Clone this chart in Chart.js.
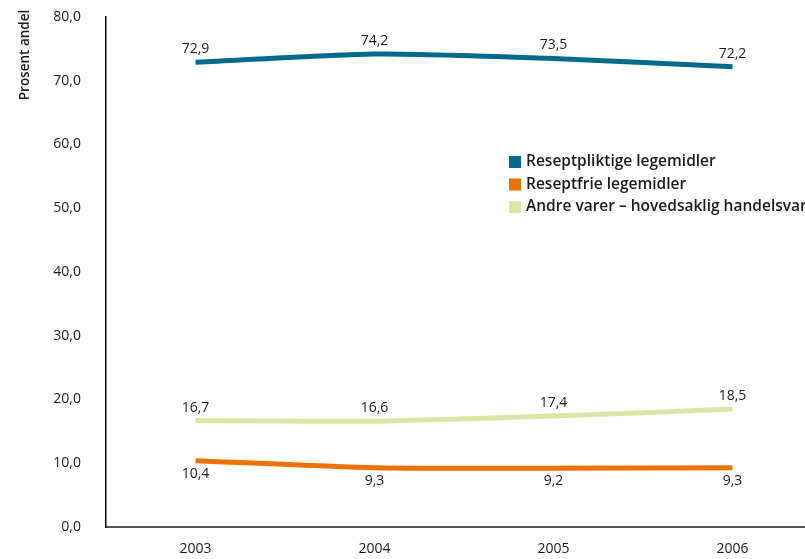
<!DOCTYPE html>
<html lang="no">
<head>
<meta charset="UTF-8">
<title>Prosent andel</title>
<script src="https://cdn.jsdelivr.net/npm/chart.js"></script>
<style>
  body { margin: 0; background: #fff; }
  #wrap { width: 805px; height: 559px; }
</style>
</head>
<body>
<div id="wrap"><canvas id="andelChart" width="805" height="559"></canvas></div>
<script>
// Omsetningsandeler per år
const years = [2003, 2004, 2005, 2006];
const reseptpliktige = [72.9, 74.2, 73.5, 72.2];
const reseptfrie = [10.4, 9.3, 9.2, 9.3];
const andreVarer = [16.7, 16.6, 17.4, 18.5];
const seriesNames = ['Reseptpliktige legemidler', 'Reseptfrie legemidler', 'Andre varer – hovedsaklig handelsvarer'];
const yTicks = [0, 10, 20, 30, 40, 50, 60, 70, 80];

const FONT = '"Open Sans", "DejaVu Sans", sans-serif';
const komma = v => v.toFixed(1).replace('.', ',');
const toPoints = arr => arr.map((v, i) => ({ x: years[i], y: v }));

// verdietiketter over/under linjene
const valueLabels = {
  id: 'valueLabels',
  afterDatasetsDraw(chart) {
    const ctx = chart.ctx;
    ctx.save();
    ctx.font = '14px ' + FONT;
    ctx.fillStyle = '#1a1a1a';
    ctx.textAlign = 'center';
    ctx.textBaseline = 'middle';
    chart.data.datasets.forEach((ds, di) => {
      const meta = chart.getDatasetMeta(di);
      meta.data.forEach((pt, i) => {
        const dy = ds.labelBelow ? 13 : -13;
        ctx.fillText(komma(ds.data[i].y), pt.x, pt.y + dy);
      });
    });
    ctx.restore();
  }
};

// egen forklaring inne i plottet + y-aksetittel
const extras = {
  id: 'extras',
  afterDraw(chart) {
    const ctx = chart.ctx;
    ctx.save();
    ctx.font = '600 15.5px ' + FONT;
    ctx.textAlign = 'left';
    ctx.textBaseline = 'middle';
    chart.data.datasets.forEach((ds, i) => {
      const y = 162 + i * 22.5;
      ctx.fillStyle = ds.borderColor;
      ctx.fillRect(509, y - 6, 12, 12);
      ctx.fillStyle = '#1a1a1a';
      ctx.fillText(ds.label, 526, y);
    });
    ctx.translate(25, 55);
    ctx.rotate(-Math.PI / 2);
    ctx.textAlign = 'center';
    ctx.font = '600 13.5px ' + FONT;
    ctx.fillText('Prosent andel', 0, 0);
    ctx.restore();
  }
};

new Chart(document.getElementById('andelChart'), {
  type: 'line',
  data: {
    datasets: [
      { label: seriesNames[0], data: toPoints(reseptpliktige), borderColor: '#006a8c', labelBelow: false },
      { label: seriesNames[1], data: toPoints(reseptfrie), borderColor: '#ee7203', labelBelow: true },
      { label: seriesNames[2], data: toPoints(andreVarer), borderColor: '#d9e6a8', labelBelow: false }
    ].map(d => Object.assign(d, { borderWidth: 5, pointRadius: 0, tension: 0.2, fill: false }))
  },
  options: {
    responsive: false,
    animation: false,
    layout: { padding: { top: 17, left: 0, right: 0, bottom: 0 } },
    plugins: { legend: { display: false }, tooltip: { enabled: false } },
    scales: {
      x: {
        type: 'linear',
        min: 2002.5,
        max: 2006.405,
        afterBuildTicks: s => { s.ticks = years.map(v => ({ value: v })); },
        afterFit: s => { s.height = 32; },
        grid: { color: 'rgba(0,0,0,0)', drawTicks: false },
        border: { color: '#555', width: 2 },
        ticks: { padding: 14, color: '#1a1a1a', font: { family: FONT, size: 14 }, callback: v => String(v) }
      },
      y: {
        min: 0,
        max: 80,
        afterBuildTicks: s => { s.ticks = yTicks.map(v => ({ value: v })); },
        afterFit: s => { s.width = 106; s.paddingTop = 0; s.paddingBottom = 0; },
        grid: { color: 'rgba(0,0,0,0)', drawTicks: false },
        border: { color: '#000', width: 1.5 },
        ticks: { padding: 25, color: '#1a1a1a', font: { family: FONT, size: 14 }, callback: v => komma(v) }
      }
    }
  },
  plugins: [valueLabels, extras]
});
</script>
</body>
</html>
